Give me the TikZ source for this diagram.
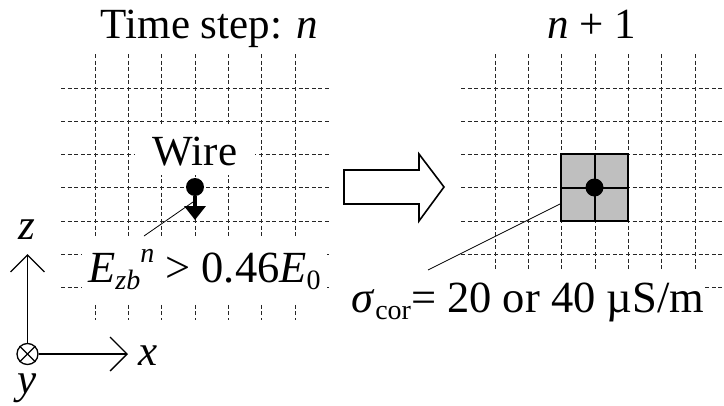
\documentclass[tikz,border=0pt]{standalone}
\usepackage{fontspec}
\setmainfont{Liberation Serif}
\usepackage{tikz}
\usetikzlibrary{arrows.meta,positioning}
\definecolor{cellgray}{gray}{0.75}
\tikzset{
  gridline/.style={line width=0.9pt,draw=black!85,dash pattern=on 4pt off 2.6pt},
  label/.style={inner sep=0pt,font=\fontsize{43}{50}\selectfont},
  biglabel/.style={label,font=\fontsize{44.5}{50}\selectfont},
  wiredot/.style={circle,fill=black,inner sep=0pt,minimum size=18pt},
  leader/.style={line width=0.8pt},
  axis/.style={line width=1.3pt,-{Straight Barb[length=17pt,width=34pt,line width=1.3pt]}},
  blockarrow/.style={line width=1.6pt,line join=miter},
  cell/.style={rectangle,draw,line width=2.2pt,fill=cellgray,minimum size=67pt,inner sep=0pt},
  cellline/.style={line width=2pt}
}
\newcommand{\smallfont}{\fontsize{28}{30}\selectfont}
\begin{document}
\begin{tikzpicture}[x=1pt,y=-1pt]
  \useasboundingbox (0,0) rectangle (724,405);

  % Grid at time step n
  \foreach \vx in {95,128.3,161.7,195,228.3,261.7,295}
    \draw[gridline] (\vx,54) -- (\vx,320);
  \foreach \hy in {88,121,154,187,221,254,287}
    \draw[gridline] (61,\hy) -- (329,\hy);

  % Grid at time step n+1
  \foreach \vx in {495,528.3,561.7,595,628.3,661.7,695}
    \draw[gridline] (\vx,54) -- (\vx,320);
  \foreach \hy in {88,121,154,187,221,254,287}
    \draw[gridline] (461,\hy) -- (724,\hy);

  % Titles
  \node[label,anchor=base] (titleleft) at (209.5,38) {Time step: \textit{n}};
  \node[label,anchor=base] (titleright) at (592,38) {\textit{n} + 1};

  % Labels on white patches
  \node[label,anchor=base,fill=white,minimum width=120pt,text height=40pt,text depth=10pt] (wirelabel) at (195,165) {Wire};
  \node[biglabel,anchor=base,fill=white,inner xsep=6pt,text height=45pt,text depth=20pt] (fieldlabel) at (204.5,282)
    {\textit{E}\raisebox{-7pt}{\smallfont\textit{zb}}\raisebox{20pt}{\smallfont\textit{n}} > 0.46\textit{E}\raisebox{-7pt}{\smallfont 0}};
  \node[biglabel,anchor=base,fill=white,text height=41pt,text depth=8pt] (condlabel) at (528,312)
    {\textit{σ}\raisebox{-7pt}{\smallfont cor}= 20 or 40 µS/m};

  % Wire with field arrow
  \node[wiredot] (wireleft) at (195,187) {};
  \coordinate (fieldtip) at (195,220);
  \draw[line width=3.5pt,-{Triangle[length=14pt,width=21pt]}] (wireleft) -- (fieldtip);
  \coordinate (leaderleftend) at (193,202);
  \coordinate (leaderleftstart) at (144,236);
  \draw[leader] (leaderleftstart) -- (leaderleftend);

  % Block arrow
  \draw[blockarrow] (344,170) -- (419,170) -- (419,154) -- (444,187) -- (419,221) -- (419,204) -- (344,204) -- cycle;

  % Corona cell
  \node[cell] (corona) at (594.5,187.5) {};
  \draw[cellline] (corona.north) -- (corona.south);
  \draw[cellline] (corona.west) -- (corona.east);
  \node[wiredot] (wireright) at (594.5,187.5) {};
  \coordinate (leaderrightend) at (560,204);
  \coordinate (leaderrightstart) at (428,270);
  \draw[leader] (leaderrightstart) -- (leaderrightend);

  % Axes
  \node[circle,draw,line width=1.3pt,inner sep=0pt,minimum size=21pt] (origin) at (27.5,354) {};
  \draw[line width=1.3pt] (origin.north west) -- (origin.south east);
  \draw[line width=1.3pt] (origin.north east) -- (origin.south west);
  \coordinate (ztip) at (27.5,254);
  \coordinate (xtip) at (128,354);
  \draw[axis] (origin) -- (ztip);
  \draw[axis] (origin) -- (xtip);
  \node[label,anchor=base] (zlabel) at (27,239) {\textit{z}};
  \node[label,anchor=base west] (xlabel) at (138,365) {\textit{x}};
  \node[label,anchor=base] (ylabel) at (27,393) {\textit{y}};
\end{tikzpicture}
\end{document}
